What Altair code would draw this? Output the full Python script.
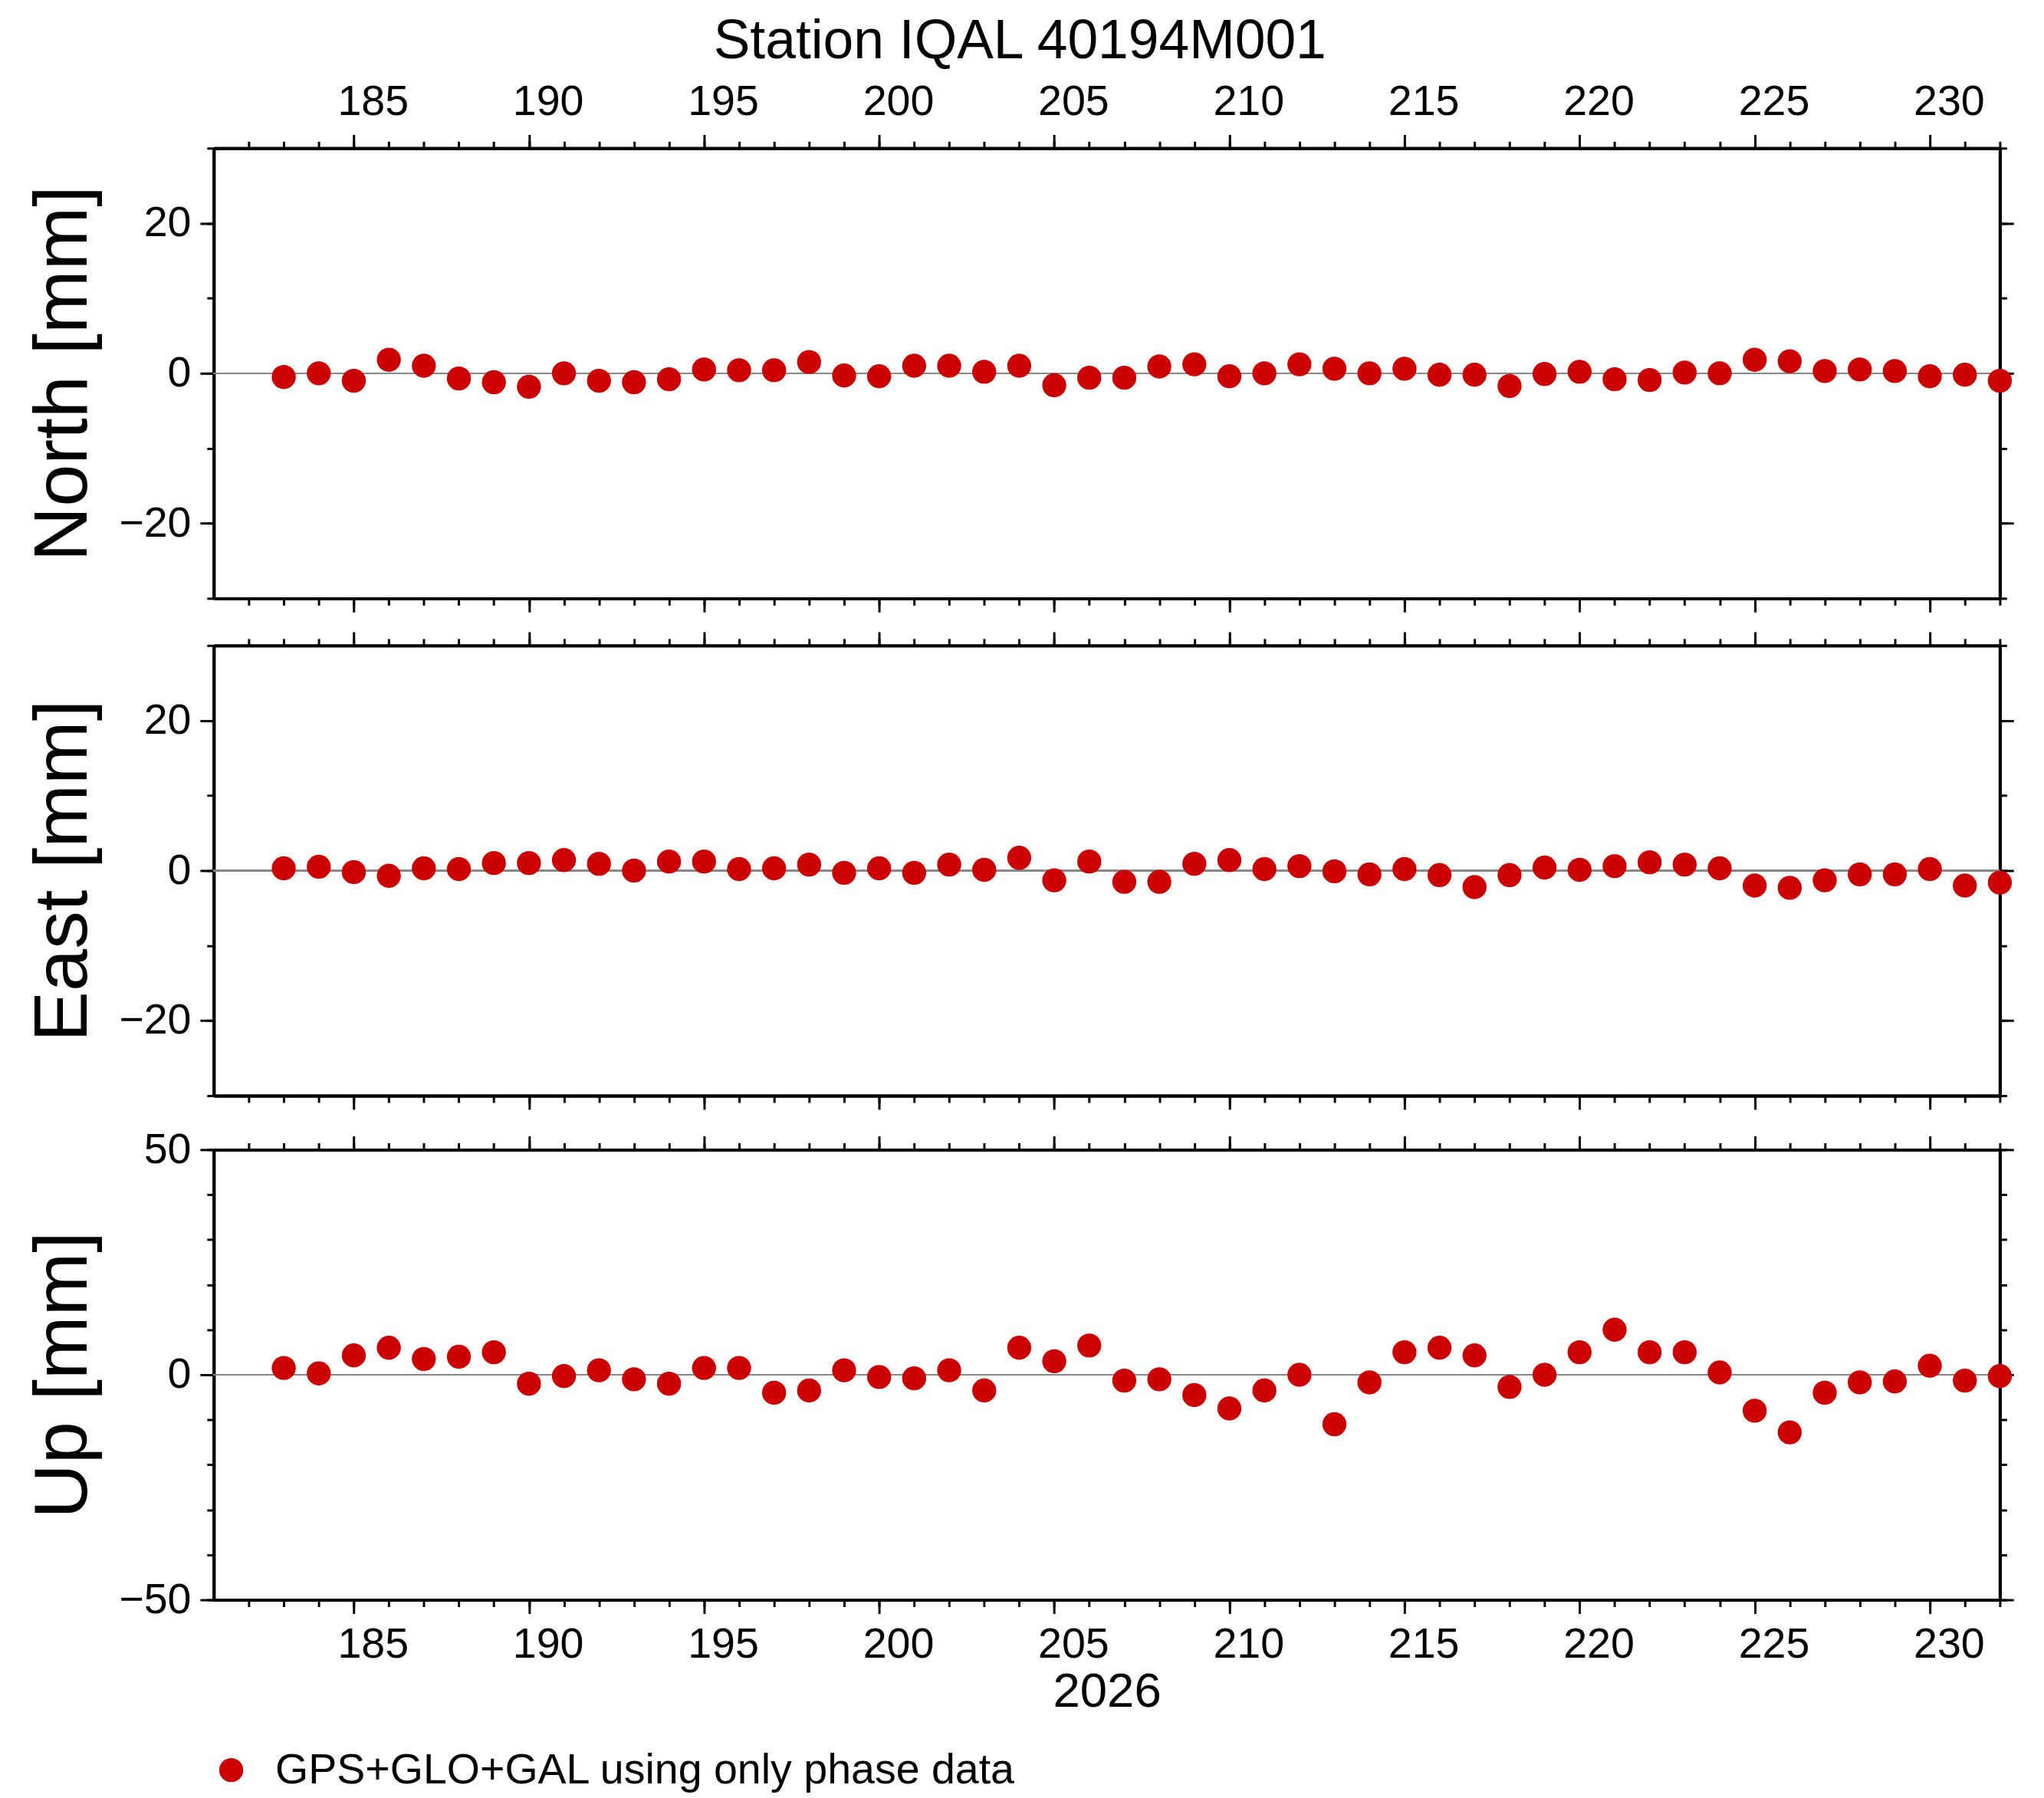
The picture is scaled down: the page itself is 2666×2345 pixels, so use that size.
import altair as alt
import pandas as pd

days = list(range(183, 233))
north = [-0.5,0,-1,1.8,1,-0.7,-1.2,-1.8,0,-1,-1.2,-0.8,0.5,0.4,0.4,1.5,-0.3,-0.4,1,1,0.2,1,-1.6,-0.6,-0.6,0.9,1.2,-0.4,0,1.2,0.6,0,0.6,-0.2,-0.2,-1.7,-0.1,0.2,-0.8,-0.9,0.1,0,1.8,1.6,0.3,0.5,0.3,-0.4,-0.2,-1]
east = [0.3,0.5,-0.2,-0.7,0.3,0.2,1,1,1.4,0.9,0,1.2,1.2,0.2,0.3,0.8,-0.3,0.3,-0.3,0.8,0.1,1.7,-1.3,1.2,-1.5,-1.5,0.9,1.4,0.2,0.6,-0.1,-0.5,0.2,-0.6,-2.2,-0.6,0.4,0.1,0.6,1.1,0.8,0.3,-2,-2.3,-1.3,-0.5,-0.5,0.2,-2,-1.6]
up = [1.5,0.3,4.3,6,3.5,4,5,-2,-0.3,1,-1,-2,1.5,1.5,-4,-3.5,1,-0.5,-0.8,1,-3.5,6,3,6.5,-1.3,-1,-4.5,-7.5,-3.5,0,-11,-1.7,5,6,4.3,-2.7,0,5,10,5,5,0.5,-8,-12.8,-4,-1.7,-1.5,2,-1.3,-0.3]
series_name = "GPS+GLO+GAL using only phase data"

FONT = "Liberation Sans"
W, H = 2349, 592
RED = "#cc0000"
xmajor = list(range(185, 231, 5))
xminor = list(range(182, 233))


def panel(title, vals, dom, ymaj, ylab, ymin, top_labels, bottom_labels, xtitle=None):
    df = pd.DataFrame({"day": days, "v": vals, "zero": [0] * len(days), "s": [series_name] * len(days)})
    xs = alt.Scale(domain=[181, 232], nice=False, zero=False)
    ys = alt.Scale(domain=dom, nice=False, zero=False)
    base = alt.Chart(df)

    def ax(orient, values, size, labels=False, **kw):
        return alt.Axis(orient=orient, values=values, tickSize=size, labels=labels, grid=False,
                        domain=True, domainWidth=4, domainColor="black", tickWidth=3, tickColor="black",
                        labelFont=FONT, labelFontSize=56, labelColor="black", **kw)

    layers = []
    layers.append(base.mark_point(opacity=0).encode(
        x=alt.X("day:Q", scale=xs, axis=ax("bottom", xminor, 9, title=None)),
        y=alt.Y("v:Q", scale=ys, axis=ax("left", ymin, 9, title=None))))
    layers.append(base.mark_point(opacity=0).encode(
        x=alt.X("day:Q", scale=xs, axis=ax("top", xminor, 9, title=None)),
        y=alt.Y("v:Q", scale=ys, axis=ax("right", ymin, 9, title=None))))
    layers.append(base.mark_point(opacity=0).encode(
        x=alt.X("day:Q", scale=xs, axis=ax("top", xmajor, 18, labels=top_labels, labelOffset=25, labelPadding=14, title=None)),
        y=alt.Y("v:Q", scale=ys, axis=ax("right", ymaj, 18, title=None))))
    if xtitle is None:
        bx = ax("bottom", xmajor, 18, labels=bottom_labels, labelOffset=25, labelPadding=14, title=None)
    else:
        bx = ax("bottom", xmajor, 18, labels=bottom_labels, labelOffset=25, labelPadding=14,
                title=xtitle, titleFont=FONT, titleFontSize=64, titleFontWeight="normal", titleColor="black", titlePadding=2)
    layers.append(base.mark_point(opacity=0).encode(
        x=alt.X("day:Q", scale=xs, axis=bx),
        y=alt.Y("v:Q", scale=ys, axis=ax("left", ylab, 18, labels=True, labelPadding=12,
                                           title=title, titleFont=FONT, titleFontSize=100,
                                           titleFontWeight="normal", titleColor="black", titlePadding=22))))
    layers.append(base.mark_rule(color="#888888", strokeWidth=1.5).encode(
        y=alt.Y("zero:Q", scale=ys, axis=None)))
    layers.append(base.mark_circle(size=1000, opacity=1).encode(
        x=alt.X("day:Q", scale=xs, axis=None),
        y=alt.Y("v:Q", scale=ys, axis=None),
        color=alt.Color("s:N", scale=alt.Scale(range=[RED]),
                        legend=alt.Legend(title=None, orient="none", legendX=-5, legendY=2105,
                                          labelFont=FONT, labelFontSize=56, labelColor="black", labelLimit=2000,
                                          symbolSize=1000, symbolType="circle", labelOffset=30))))
    return alt.layer(*layers).resolve_axis(x="independent", y="independent").properties(width=W, height=H)


p1 = panel("North [mm]", north, [-30, 30], [-20, 0, 20], [-20, 0, 20], list(range(-30, 31, 10)), True, False)
p2 = panel("East [mm]", east, [-30, 30], [-20, 0, 20], [-20, 0, 20], list(range(-30, 31, 10)), False, False)
p3 = panel("Up [mm]", up, [-50, 50], [-50, 0, 50], [-50, 0, 50], list(range(-50, 51, 10)), False, True, "2026")

chart = alt.vconcat(p1, p2, p3, spacing=22).properties(
    title=alt.TitleParams("Station IQAL 40194M001", font=FONT, fontSize=72, fontWeight="normal",
                          color="black", offset=14, anchor="middle"),
    padding={"left": 24, "top": 0, "right": 30, "bottom": 20}
).configure_view(stroke="black", strokeWidth=4).configure(background="white")

chart.save("out.html", embed_options={"renderer": "svg", "actions": False})
